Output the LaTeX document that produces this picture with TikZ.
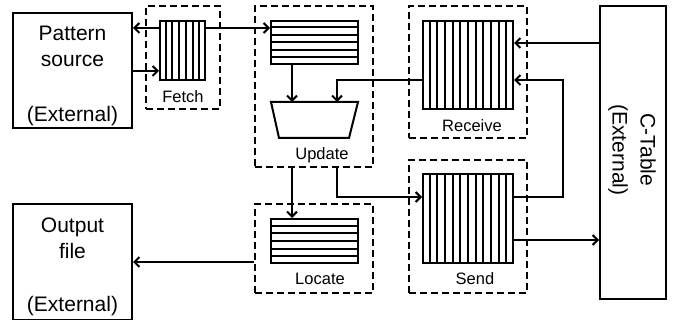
\documentclass[tikz,border=0pt]{standalone}
\usepackage{fontspec}
\setmainfont{Liberation Sans}
\usetikzlibrary{arrows.meta, positioning, calc}

\tikzset{
  extbox/.style={draw, line width=2pt, inner sep=0pt, align=center,
    font=\fontsize{21}{26}\selectfont},
  stagebox/.style={draw, line width=2pt, dash pattern=on 7pt off 4pt, inner sep=0pt},
  queue/.style={draw, line width=2pt, inner sep=0pt},
  lbl/.style={font=\fontsize{16.5}{19}\selectfont, inner sep=0pt},
  arr/.style={line width=2pt, -{Straight Barb[length=5pt,width=10pt]}}
}

\begin{document}
\begin{tikzpicture}[x=1pt, y=-1pt]
\useasboundingbox (0,0) rectangle (677,320);

% External parts
\node[extbox, minimum width=119pt, minimum height=115pt] (src) at (72.5,70.5)
  {\rule{0pt}{25pt}Pattern\\source\\[29pt](External)};
\node[extbox, minimum width=119pt, minimum height=115pt] (out) at (72.5,262)
  {\rule{0pt}{25pt}Output\\file\\[27pt](External)};
\node[extbox, minimum width=66pt, minimum height=293pt] (ctab) at (633,152.5) {};
\node[align=center, rotate=-90, font=\fontsize{21}{28}\selectfont] (ctablbl) at (632,150)
  {C-Table\\(External)};

% Stages
\node[stagebox, minimum width=74pt, minimum height=103pt] (fetchbox) at (183,57.5) {};
\node[stagebox, minimum width=118pt, minimum height=161pt] (updbox) at (314,86.5) {};
\node[stagebox, minimum width=118pt, minimum height=132pt] (rcvbox) at (468,72) {};
\node[stagebox, minimum width=118pt, minimum height=133pt] (sendbox) at (468,226.5) {};
\node[stagebox, minimum width=118pt, minimum height=89pt] (locbox) at (314,248.5) {};

\node[lbl] (fetchlbl) at ([yshift=13pt]fetchbox.south) {Fetch};
\node[lbl] (updlbl) at ([xshift=8pt, yshift=13pt]updbox.south) {Update};
\node[lbl] (rcvlbl) at ([xshift=4pt, yshift=13pt]rcvbox.south) {Receive};
\node[lbl] (sendlbl) at ([xshift=7pt, yshift=15pt]sendbox.south) {Send};
\node[lbl] (loclbl) at ([xshift=6pt, yshift=15pt]locbox.south) {Locate};

% Queues
\node[queue, minimum width=45pt, minimum height=59pt] (fetchq) at (182.5,50.5) {};
\node[queue, minimum width=87pt, minimum height=43pt] (updq) at (314.5,42.5) {};
\node[queue, minimum width=90pt, minimum height=88pt] (rcvq) at (468,65) {};
\node[queue, minimum width=90pt, minimum height=89pt] (sendq) at (468,218.5) {};
\node[queue, minimum width=87pt, minimum height=44pt] (locq) at (314.5,241) {};

\foreach \q/\n in {fetchq/7, rcvq/12, sendq/12} {
  \pgfmathtruncatemacro{\m}{\n-1}
  \foreach \i in {1,...,\m}
    \draw[line width=2pt] ($(\q.north west)!\i/\n!(\q.north east)$)
      -- ($(\q.south west)!\i/\n!(\q.south east)$);
}
\foreach \q/\n in {updq/6, locq/6} {
  \pgfmathtruncatemacro{\m}{\n-1}
  \foreach \i in {1,...,\m}
    \draw[line width=2pt] ($(\q.north west)!\i/\n!(\q.south west)$)
      -- ($(\q.north east)!\i/\n!(\q.south east)$);
}

% Update unit
\draw[line width=2pt] (271,102) -- (358,102) -- (349,138) -- (279,138) -- cycle;
\coordinate (alua) at (292,102);
\coordinate (alub) at (337,102);
\coordinate (bend) at (563,80);

% Connectors
\path ([yshift=22.5pt]fetchq.west) coordinate (f1);
\path ([yshift=-20.5pt]fetchq.west) coordinate (f2);
\path ([yshift=22pt]rcvq.east) coordinate (c1);
\draw[arr] (f1) -- (f1 -| src.east);
\draw[arr] (f2 -| src.east) -- (f2);
\draw[arr] (f1 -| fetchq.east) -- (f1 -| updq.west);
\draw[arr] (updq.south -| alua) -- (alua);
\draw[arr] ([yshift=-15pt]rcvq.west) -| (alub);
\draw[arr] (c1 -| ctab.west) -- (c1);
\draw[arr] ([yshift=21.5pt]sendq.east) -| (bend) -- ([yshift=-15pt]rcvq.east);
\draw[arr] ([yshift=-21.5pt]sendq.east) coordinate (s2) -- (s2 -| ctab.west);
\draw[arr] (updbox.south -| alua) -- (locq.north -| alua);
\draw[arr] (updbox.south -| alub) |- ([yshift=21.5pt]sendq.west);
\draw[arr] ([yshift=-13.5pt]locbox.west) coordinate (l1) -- (l1 -| out.east);
\end{tikzpicture}
\end{document}
